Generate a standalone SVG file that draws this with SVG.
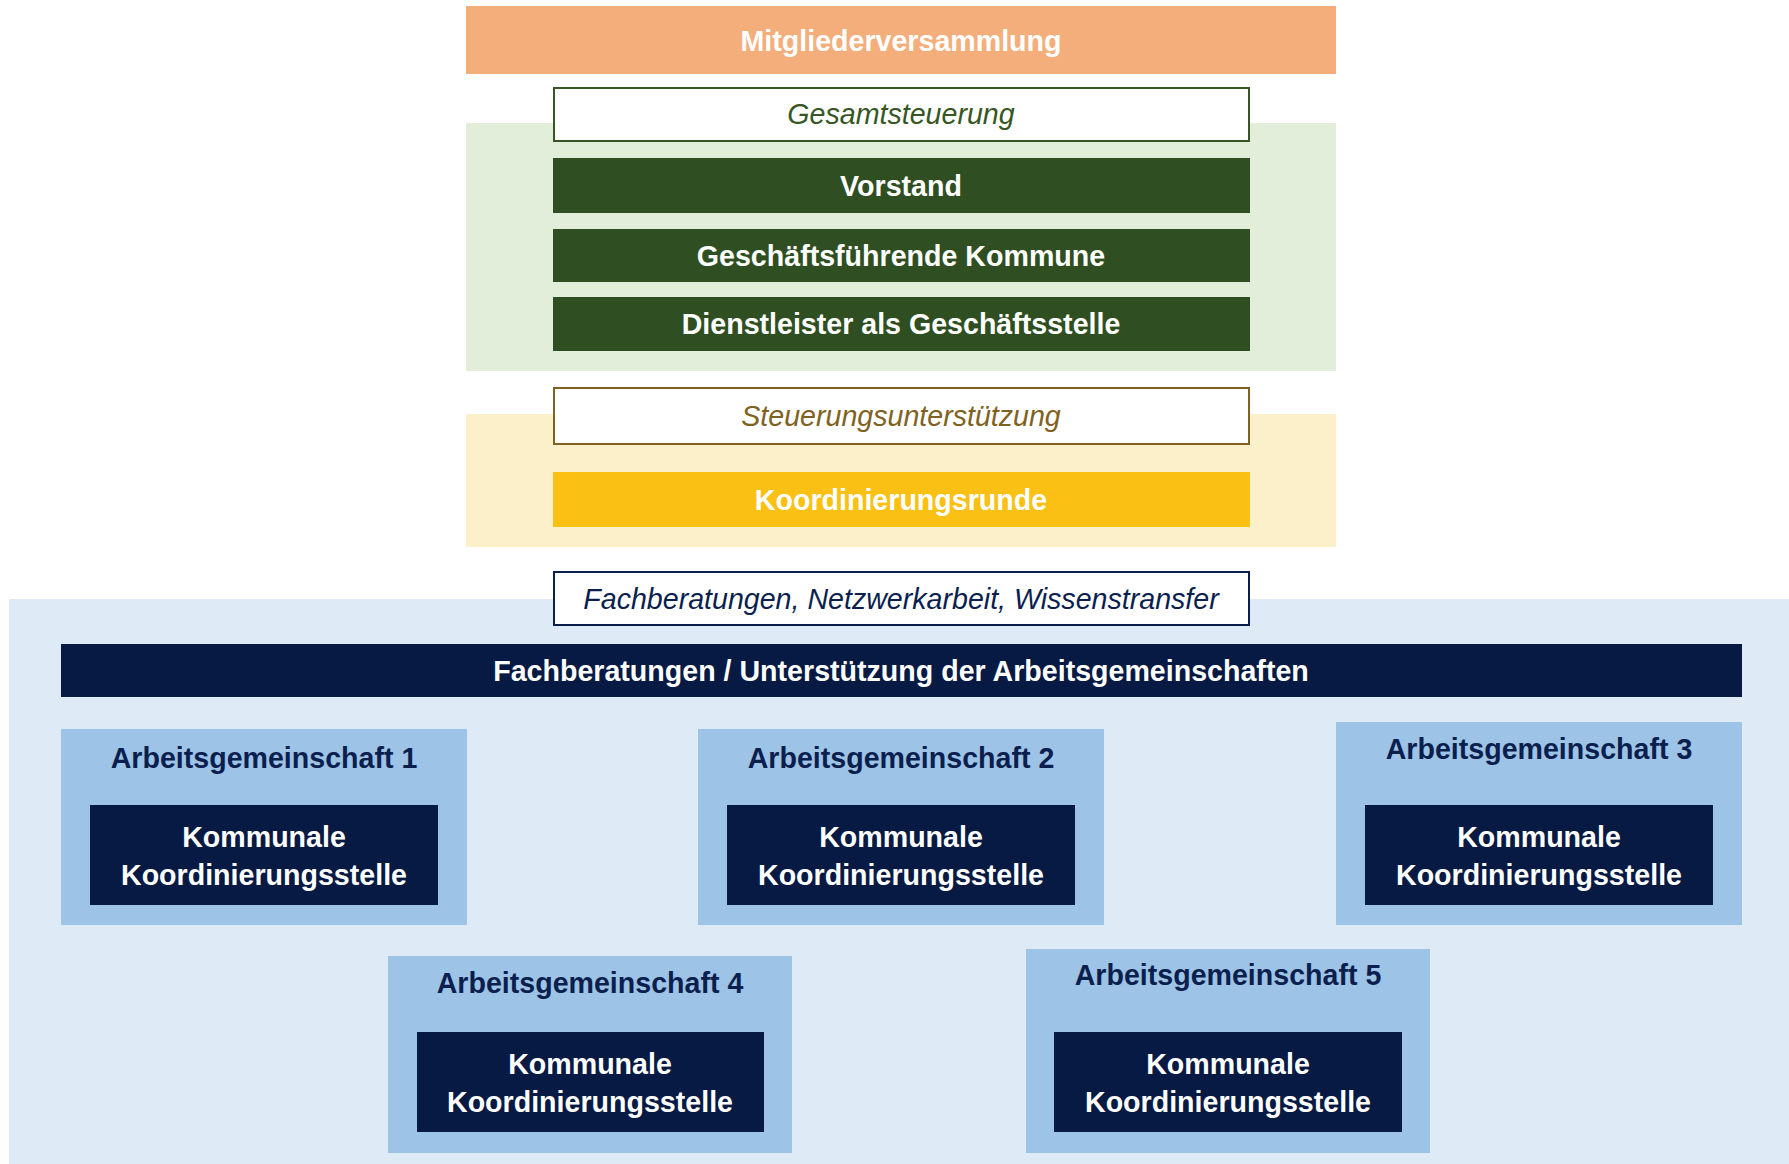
<svg xmlns="http://www.w3.org/2000/svg" width="1789" height="1164" viewBox="0 0 1789 1164">
<style>
text{font-family:"Liberation Sans",Arial,sans-serif;font-size:28.6px;text-anchor:middle}
.b{font-weight:bold;fill:#fff}
.i{font-style:italic}
.ag{fill:#9DC3E6}
.kk{fill:#061A43}
.agt{font-weight:bold;fill:#0B1F4F}
.dg{fill:#2F4F23}
</style>
<rect width="1789" height="1164" fill="#fff"/>
<g id="backgrounds">
<rect x="466" y="123" width="870" height="248" fill="#E2EEDA"/>
<rect x="466" y="414" width="870" height="133" fill="#FCF0CB"/>
<rect x="9" y="599" width="1780" height="565" fill="#DEEBF6"/>
</g>
<g id="mitgliederversammlung">
<rect x="466" y="6" width="870" height="68" fill="#F4AE7B"/>
<text class="b" x="901" y="51">Mitgliederversammlung</text>
</g>
<g id="gesamtsteuerung">
<rect x="554" y="88" width="695" height="53" fill="#fff" stroke="#375623" stroke-width="2"/>
<text class="i" x="901" y="124" fill="#375623">Gesamtsteuerung</text>
</g>
<g id="vorstand">
<rect class="dg" x="553" y="158" width="697" height="55"/>
<text class="b" x="901" y="196">Vorstand</text>
</g>
<g id="geschaeftsfuehrende-kommune">
<rect class="dg" x="553" y="229" width="697" height="53"/>
<text class="b" x="901" y="266">Geschäftsführende Kommune</text>
</g>
<g id="dienstleister">
<rect class="dg" x="553" y="297" width="697" height="54"/>
<text class="b" x="901" y="334">Dienstleister als Geschäftsstelle</text>
</g>
<g id="steuerungsunterstuetzung">
<rect x="554" y="388" width="695" height="56" fill="#fff" stroke="#7F6222" stroke-width="2"/>
<text class="i" x="901" y="426" fill="#7F6222">Steuerungsunterstützung</text>
</g>
<g id="koordinierungsrunde">
<rect x="553" y="472" width="697" height="55" fill="#FAC014"/>
<text class="b" x="901" y="510">Koordinierungsrunde</text>
</g>
<g id="fachberatungen-label">
<rect x="554" y="572" width="695" height="53" fill="#fff" stroke="#0B1F4F" stroke-width="2"/>
<text class="i" x="901" y="609" fill="#0B1F4F">Fachberatungen, Netzwerkarbeit, Wissenstransfer</text>
</g>
<g id="fachberatungen-unterstuetzung">
<rect class="kk" x="61" y="644" width="1681" height="53"/>
<text class="b" x="901" y="681">Fachberatungen / Unterstützung der Arbeitsgemeinschaften</text>
</g>
<g id="ag1">
<rect class="ag" x="61" y="729" width="406" height="196"/>
<text class="agt" x="264" y="768">Arbeitsgemeinschaft 1</text>
<rect class="kk" x="90" y="805" width="348" height="100"/>
<text class="b" x="264" y="847">Kommunale</text>
<text class="b" x="264" y="885">Koordinierungsstelle</text>
</g>
<g id="ag2">
<rect class="ag" x="698" y="729" width="406" height="196"/>
<text class="agt" x="901" y="768">Arbeitsgemeinschaft 2</text>
<rect class="kk" x="727" y="805" width="348" height="100"/>
<text class="b" x="901" y="847">Kommunale</text>
<text class="b" x="901" y="885">Koordinierungsstelle</text>
</g>
<g id="ag3">
<rect class="ag" x="1336" y="722" width="406" height="203"/>
<text class="agt" x="1539" y="759">Arbeitsgemeinschaft 3</text>
<rect class="kk" x="1365" y="805" width="348" height="100"/>
<text class="b" x="1539" y="847">Kommunale</text>
<text class="b" x="1539" y="885">Koordinierungsstelle</text>
</g>
<g id="ag4">
<rect class="ag" x="388" y="956" width="404" height="197"/>
<text class="agt" x="590" y="993">Arbeitsgemeinschaft 4</text>
<rect class="kk" x="417" y="1032" width="347" height="100"/>
<text class="b" x="590" y="1074">Kommunale</text>
<text class="b" x="590" y="1112">Koordinierungsstelle</text>
</g>
<g id="ag5">
<rect class="ag" x="1026" y="949" width="404" height="204"/>
<text class="agt" x="1228" y="985">Arbeitsgemeinschaft 5</text>
<rect class="kk" x="1054" y="1032" width="348" height="100"/>
<text class="b" x="1228" y="1074">Kommunale</text>
<text class="b" x="1228" y="1112">Koordinierungsstelle</text>
</g>
<g id="connectors"></g>
</svg>
